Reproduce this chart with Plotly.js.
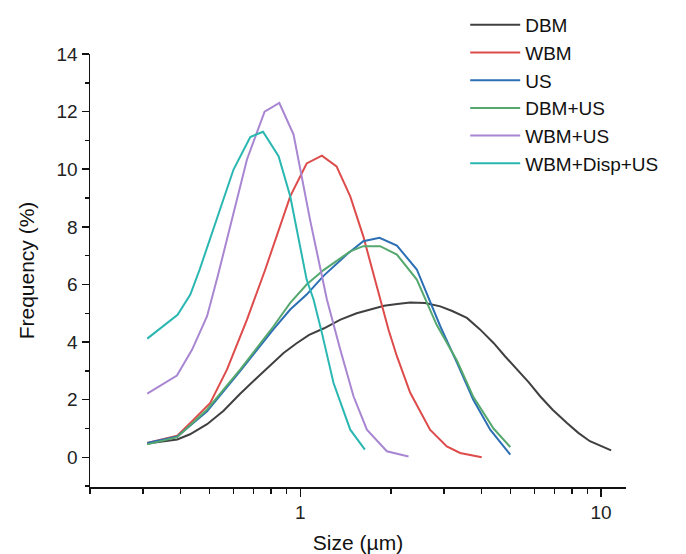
<!DOCTYPE html>
<html>
<head>
<meta charset="utf-8">
<script src="https://cdn.plot.ly/plotly-3.0.1.min.js"></script>
<style>html,body{margin:0;padding:0;background:#fff;}#chart{width:686px;height:554px;}</style>
</head>
<body>
<div id="chart"></div>
<script>
// Series names
const seriesNames = ["DBM", "WBM", "US", "DBM+US", "WBM+US", "WBM+Disp+US"];

// DBM
const dbmSize = [0.31,0.39,0.43,0.49,0.556,0.63,0.718,0.80,0.88,0.97,1.07,1.2,1.36,1.54,1.72,1.9,2.1,2.32,2.6,2.92,3.2,3.58,3.95,4.39,4.8,5.25,5.75,6.27,6.9,7.7,8.4,9.18,10.0,10.8];
const dbmFreq = [0.48,0.62,0.8,1.15,1.62,2.2,2.76,3.2,3.62,3.95,4.25,4.48,4.78,5.0,5.15,5.26,5.32,5.37,5.36,5.24,5.08,4.84,4.45,3.97,3.5,3.05,2.6,2.12,1.65,1.19,0.85,0.56,0.38,0.24];

// WBM
const wbmSize = [0.31,0.39,0.442,0.502,0.571,0.665,0.765,0.85,0.926,1.05,1.18,1.32,1.466,1.62,1.8,1.965,2.095,2.32,2.7,3.07,3.4,4.01];
const wbmFreq = [0.5,0.75,1.31,1.89,3.05,4.78,6.52,7.9,9.06,10.2,10.47,10.1,9.06,7.67,5.9,4.43,3.51,2.24,0.96,0.38,0.15,0.0];

// US
const usSize = [0.31,0.39,0.49,0.632,0.815,0.926,1.05,1.195,1.43,1.62,1.834,2.095,2.44,2.92,3.32,3.76,4.28,4.99];
const usFreq = [0.5,0.72,1.6,3.0,4.45,5.13,5.65,6.3,7.05,7.5,7.62,7.35,6.52,4.55,3.28,2.0,0.96,0.09];

// DBM+US
const dbmusSize = [0.31,0.39,0.49,0.632,0.815,0.926,1.05,1.195,1.466,1.62,1.843,2.095,2.44,2.84,3.32,3.76,4.39,4.99];
const dbmusFreq = [0.45,0.7,1.66,3.05,4.55,5.36,6.0,6.5,7.15,7.33,7.33,7.04,6.17,4.6,3.35,2.1,1.0,0.36];

// WBM+US
const wbmusSize = [0.31,0.389,0.437,0.49,0.532,0.665,0.761,0.852,0.95,1.08,1.226,1.358,1.503,1.665,1.94,2.29];
const wbmusFreq = [2.21,2.84,3.74,4.9,6.3,10.34,12.0,12.3,11.2,8.2,5.48,3.74,2.12,0.96,0.21,0.03];

// WBM+Disp+US
const dispSize = [0.31,0.391,0.431,0.463,0.6,0.682,0.752,0.847,0.926,1.05,1.107,1.18,1.29,1.466,1.64];
const dispFreq = [4.12,4.95,5.65,6.52,9.99,11.12,11.3,10.45,9.06,6.17,5.48,4.32,2.58,0.96,0.27];

const colors = ["#404040", "#de4b4b", "#2c6fb5", "#55a86e", "#a886d2", "#2ab7b2"];
const xs = [dbmSize, wbmSize, usSize, dbmusSize, wbmusSize, dispSize];
const ys = [dbmFreq, wbmFreq, usFreq, dbmusFreq, wbmusFreq, dispFreq];

// Axis ticks
const xMajorTicks = [1, 10];
const xMinorTicks = [0.2,0.3,0.4,0.5,0.6,0.7,0.8,0.9,2,3,4,5,6,7,8,9];
const yMajorTicks = [0,2,4,6,8,10,12,14];

const traces = seriesNames.map((n, i) => ({
  type: "scatter", mode: "lines", name: n,
  x: xs[i], y: ys[i],
  legendgroup: "g" + i,
  line: {color: colors[i], width: 2}
}));

const font = "Arial, 'Liberation Sans', sans-serif";
const layout = {
  width: 686, height: 554,
  margin: {l: 90, r: 60, t: 54, b: 67, autoexpand: false},
  paper_bgcolor: "#fff", plot_bgcolor: "#fff",
  font: {family: font, color: "#222", size: 19},
  showlegend: true,
  legend: {x: 0.70, xanchor: "left", y: 1.111, yanchor: "top",
           itemwidth: 50,
           font: {size: 19, family: font, color: "#111"},
           bgcolor: "rgba(0,0,0,0)", traceorder: "grouped", tracegroupgap: 0},
  xaxis: {
    type: "log", range: [Math.log10(0.2), Math.log10(12.1)],
    tickmode: "array", tickvals: xMajorTicks, ticktext: xMajorTicks.map(String),
    ticks: "outside", ticklen: 8, tickwidth: 1.5, tickcolor: "#111",
    minor: {tickmode: "array", tickvals: xMinorTicks, ticks: "outside", ticklen: 5, tickwidth: 1.5, tickcolor: "#111"},
    showline: true, linecolor: "#111", linewidth: 1.5, mirror: false,
    showgrid: false, zeroline: false,
    tickfont: {size: 19, family: font, color: "#222"},
    title: {text: "Size (µm)", font: {size: 21, family: font, color: "#111"}, standoff: 14}
  },
  yaxis: {
    range: [-1.03, 14],
    tickmode: "array", tickvals: yMajorTicks,
    ticks: "outside", ticklen: 7, tickwidth: 1.5, tickcolor: "#111",
    minor: {tickmode: "linear", tick0: 1, dtick: 2, ticks: "outside", ticklen: 4, tickwidth: 1.5, tickcolor: "#111"},
    showline: true, linecolor: "#111", linewidth: 1.5, mirror: false,
    showgrid: false, zeroline: false,
    tickfont: {size: 19, family: font, color: "#222"},
    title: {text: "Frequency (%)", font: {size: 21, family: font, color: "#111"}, standoff: 16}
  }
};

Plotly.newPlot("chart", traces, layout, {displayModeBar: false, staticPlot: true});
</script>
</body>
</html>
